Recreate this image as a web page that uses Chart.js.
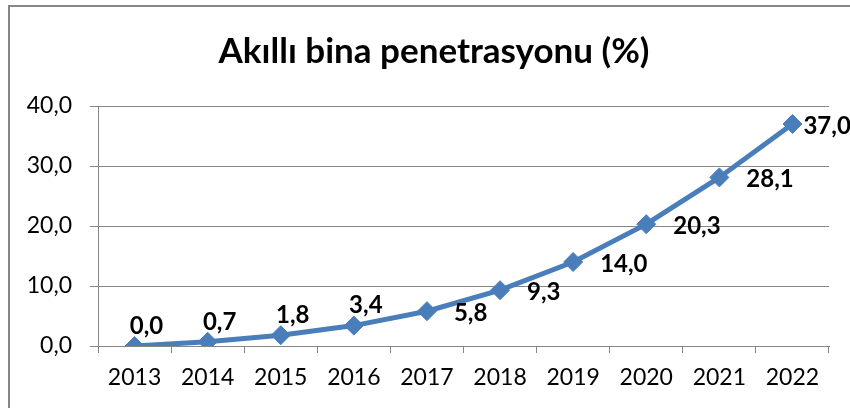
<!DOCTYPE html>
<html>
<head>
<meta charset="utf-8">
<script src="https://cdn.jsdelivr.net/npm/chart.js@4.4.1/dist/chart.umd.min.js"></script>
<style>
  html, body { margin: 0; padding: 0; background: #fff; }
  #wrap { width: 850px; height: 408px; position: relative; }
</style>
</head>
<body>
<div id="wrap"><canvas id="chart"></canvas></div>
<script>
const years = ['2013', '2014', '2015', '2016', '2017', '2018', '2019', '2020', '2021', '2022'];
const penetration = [0.0, 0.7, 1.8, 3.4, 5.8, 9.3, 14.0, 20.3, 28.1, 37.0];
const yTicks = [0, 10, 20, 30, 40];
const titleText = 'Akıllı bina penetrasyonu (%)';

const blue = '#4a7ebb';
const grey = '#868686';

function fmt(v) {
  return v.toFixed(1).replace('.', ',');
}

// kenarlık (sol ve üst) + başlık
const frame = {
  id: 'frame',
  beforeDraw(chart) {
    const ctx = chart.ctx;
    ctx.save();
    ctx.fillStyle = '#fff';
    ctx.fillRect(0, 0, chart.width, chart.height);
    ctx.strokeStyle = grey;
    ctx.lineWidth = 2;
    ctx.beginPath();
    ctx.moveTo(9, chart.height);
    ctx.lineTo(9, 6);
    ctx.lineTo(chart.width, 6);
    ctx.stroke();

    ctx.fillStyle = '#000';
    ctx.font = 'bold 35px Lato';
    ctx.textAlign = 'center';
    ctx.textBaseline = 'alphabetic';
    ctx.fillText(titleText, 434, 63);
    ctx.restore();
  }
};

// veri etiketleri
const valueLabels = {
  id: 'valueLabels',
  afterDatasetsDraw(chart) {
    const ctx = chart.ctx;
    const meta = chart.getDatasetMeta(0);
    ctx.save();
    ctx.font = 'bold 24px Lato';
    ctx.fillStyle = '#000';
    ctx.textBaseline = 'middle';
    meta.data.forEach((pt, i) => {
      const txt = fmt(penetration[i]);
      if (i < 4) {
        ctx.textAlign = 'center';
        ctx.fillText(txt, pt.x + 12, pt.y - 20);
      } else {
        ctx.textAlign = 'left';
        const dx = i === meta.data.length - 1 ? 11 : 27;
        ctx.fillText(txt, pt.x + dx, pt.y + 2);
      }
    });
    ctx.restore();
  }
};

new Chart(document.getElementById('chart'), {
  type: 'line',
  data: {
    labels: years,
    datasets: [{
      data: penetration,
      borderColor: blue,
      backgroundColor: blue,
      borderWidth: 5,
      pointStyle: 'rectRot',
      pointRadius: 9.5,
      pointHoverRadius: 9.5,
      pointBackgroundColor: blue,
      pointBorderColor: blue,
      pointBorderWidth: 1,
      tension: 0
    }]
  },
  options: {
    responsive: true,
    maintainAspectRatio: false,
    animation: false,
    events: [],
    layout: { padding: { left: 0, right: 21, top: 106, bottom: 0 } },
    plugins: {
      legend: { display: false },
      tooltip: { enabled: false },
      title: { display: false }
    },
    scales: {
      x: {
        offset: true,
        grid: {
          offset: true,
          drawOnChartArea: false,
          drawTicks: true,
          tickLength: 7,
          color: grey
        },
        border: { color: grey, width: 1 },
        ticks: {
          color: '#000',
          font: { family: 'Lato', size: 23 },
          padding: 11,
          maxRotation: 0
        },
        afterFit(s) { s.height = 62; }
      },
      y: {
        min: 0,
        max: 40,
        afterBuildTicks(s) { s.ticks = yTicks.map(v => ({ value: v })); },
        grid: {
          color: grey,
          tickLength: 8
        },
        border: { color: grey, width: 1 },
        ticks: {
          color: '#000',
          font: { family: 'Lato', size: 23 },
          padding: 18,
          callback: v => fmt(v)
        },
        afterFit(s) { s.width = 98; }
      }
    }
  },
  plugins: [frame, valueLabels]
});
</script>
</body>
</html>
